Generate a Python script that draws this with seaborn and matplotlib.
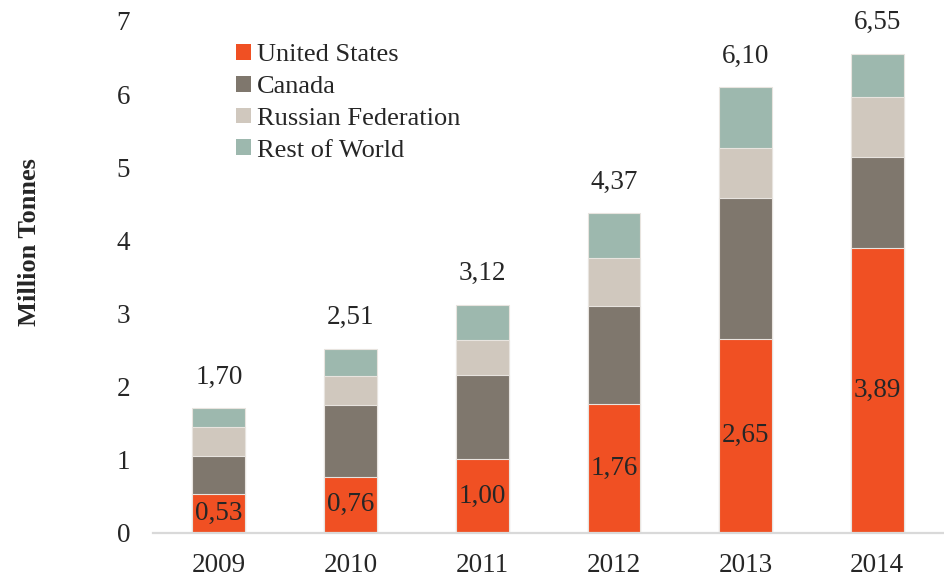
"""
Stacked bar chart of production by country, 2009-2014 (million tonnes).
"""

import pandas as pd
import matplotlib.pyplot as plt
import seaborn as sns
from matplotlib.patches import Patch

years = ['2009', '2010', '2011', '2012', '2013', '2014']
united_states = [0.53, 0.76, 1.00, 1.76, 2.65, 3.89]
canada = [0.52, 0.98, 1.16, 1.34, 1.93, 1.25]
russia = [0.39, 0.40, 0.48, 0.66, 0.68, 0.82]
rest_of_world = [0.26, 0.37, 0.48, 0.61, 0.83, 0.59]
totals = ['1,70', '2,51', '3,12', '4,37', '6,10', '6,55']
us_labels = ['0,53', '0,76', '1,00', '1,76', '2,65', '3,89']

series = ['United States', 'Canada', 'Russian Federation', 'Rest of World']
colors = ['#F05023', '#7F776D', '#D0C8BE', '#9DB8AE']


def build_frame():
    df = pd.DataFrame({
        'Year': years,
        'United States': united_states,
        'Canada': canada,
        'Russian Federation': russia,
        'Rest of World': rest_of_world,
    })
    # cumulative tops, so layers can be drawn largest first
    df[series] = df[series].cumsum(axis=1)
    return df


def draw_chart(output_path='out.png'):
    df = build_frame()
    sns.set_style('white')
    plt.rcParams['font.family'] = ['Liberation Serif', 'DejaVu Serif']
    text_color = '#262626'

    fig = plt.figure(figsize=(9.44, 5.77), dpi=100)
    ax = fig.add_axes([153 / 944, 1 - 532.5 / 577, (943 - 153) / 944, (532.5 - 21) / 577])

    for name, color in reversed(list(zip(series, colors))):
        sns.barplot(data=df, x='Year', y=name, color=color, width=0.40,
                    edgecolor='#E8E4DF', linewidth=0.8, ax=ax, saturation=1)

    fs = 19.5
    for i, (top, lab) in enumerate(zip(df['Rest of World'], totals)):
        ax.annotate(lab, (i, top), xytext=(0, 22.5), textcoords='offset points',
                    ha='center', va='center', fontsize=fs, color=text_color)
    for i, (v, lab) in enumerate(zip(united_states, us_labels)):
        ax.text(i, v / 2, lab, ha='center', va='center', fontsize=fs, color=text_color)

    ax.set_ylim(0, 7)
    ax.set_xlim(-0.5, 5.5)
    ax.set_yticks(range(0, 8))
    ax.set_xlabel('')
    ax.set_ylabel('')
    ax.tick_params(axis='both', length=0, labelsize=fs, colors=text_color)
    ax.tick_params(axis='y', pad=16.5)
    ax.tick_params(axis='x', pad=15)
    for side in ['top', 'right', 'left']:
        ax.spines[side].set_visible(False)
    ax.spines['bottom'].set_color('#D9D9D9')
    ax.spines['bottom'].set_linewidth(1.6)

    fig.text(30 / 944, 1 - 242 / 577, 'Million Tonnes', rotation=90, ha='center',
             va='center', fontsize=19, fontweight='bold', color=text_color)

    handles = [Patch(facecolor=c, edgecolor='none', label=s) for s, c in zip(series, colors)]
    fig.legend(handles=handles, loc='upper left', bbox_to_anchor=(236 / 944, 1 - 44 / 577),
               frameon=False, fontsize=19, handlelength=0.55, handleheight=0.55,
               handletextpad=0.25, labelspacing=0.36, borderpad=0, borderaxespad=0,
               labelcolor=text_color)

    fig.savefig(output_path, dpi=100)
    plt.close(fig)


if __name__ == '__main__':
    draw_chart()
